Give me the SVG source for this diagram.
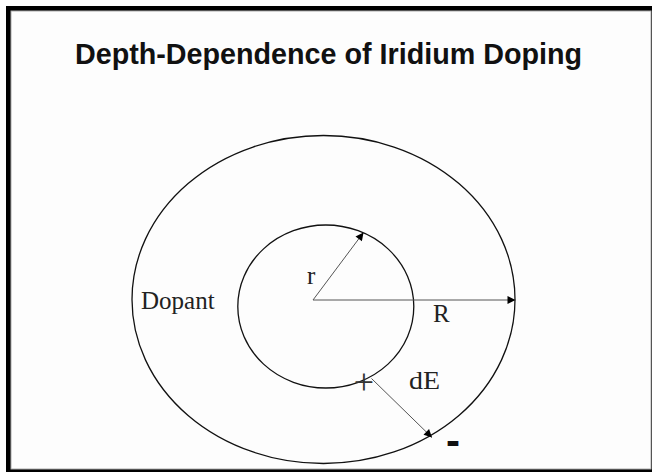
<svg xmlns="http://www.w3.org/2000/svg" width="652" height="472" viewBox="0 0 652 472">
<style>
.shape{fill:none;stroke:#111;stroke-width:1.3}
.arrow{stroke:#555;stroke-width:1;fill:none;marker-end:url(#ah)}
.lbl{font-family:"Liberation Serif","Times New Roman",serif;fill:#222;font-size:25px}
.title{font-family:"Liberation Sans",Arial,sans-serif;font-weight:bold;fill:#111;font-size:30px}
</style>
<defs>
<marker id="ah" viewBox="0 0 10 10" refX="10" refY="5" markerWidth="10" markerHeight="8" markerUnits="userSpaceOnUse" orient="auto">
<path d="M0,0 L10,5 L0,10 z" fill="#000"/>
</marker>
</defs>
<rect x="0" y="0" width="652" height="472" fill="#fff"/>
<rect x="6" y="6" width="646" height="466" fill="#000"/>
<rect x="11" y="11" width="640" height="458" fill="#fdfdfd" stroke="#aaa" stroke-width="1"/>
<g id="title">
<text class="title" x="75" y="64" textLength="507" lengthAdjust="spacingAndGlyphs">Depth-Dependence of Iridium Doping</text>
</g>
<g id="outer">
<ellipse class="shape" cx="323.5" cy="299.5" rx="191.5" ry="164"/>
</g>
<g id="inner">
<ellipse class="shape" cx="325.8" cy="306.5" rx="88" ry="81.5"/>
</g>
<g id="connectors">
<line class="arrow" x1="313" y1="300" x2="363.5" y2="232.5"/>
<line class="arrow" x1="313" y1="300" x2="515.5" y2="300"/>
<line class="arrow" x1="371.5" y1="378.5" x2="432" y2="437.5"/>
</g>
<g id="labels">
<text class="lbl" x="141" y="309">Dopant</text>
<text class="lbl" x="307" y="284">r</text>
<text class="lbl" x="433" y="322">R</text>
<text class="lbl" x="409" y="389" textLength="31" lengthAdjust="spacingAndGlyphs">dE</text>
<text class="lbl" x="364" y="394" text-anchor="middle" style="font-size:36px;fill:#333">+</text>
<text x="446" y="455" style="font-family:'Liberation Sans',Arial,sans-serif;font-weight:bold;font-size:42px;fill:#111">-</text>
</g>
</svg>
